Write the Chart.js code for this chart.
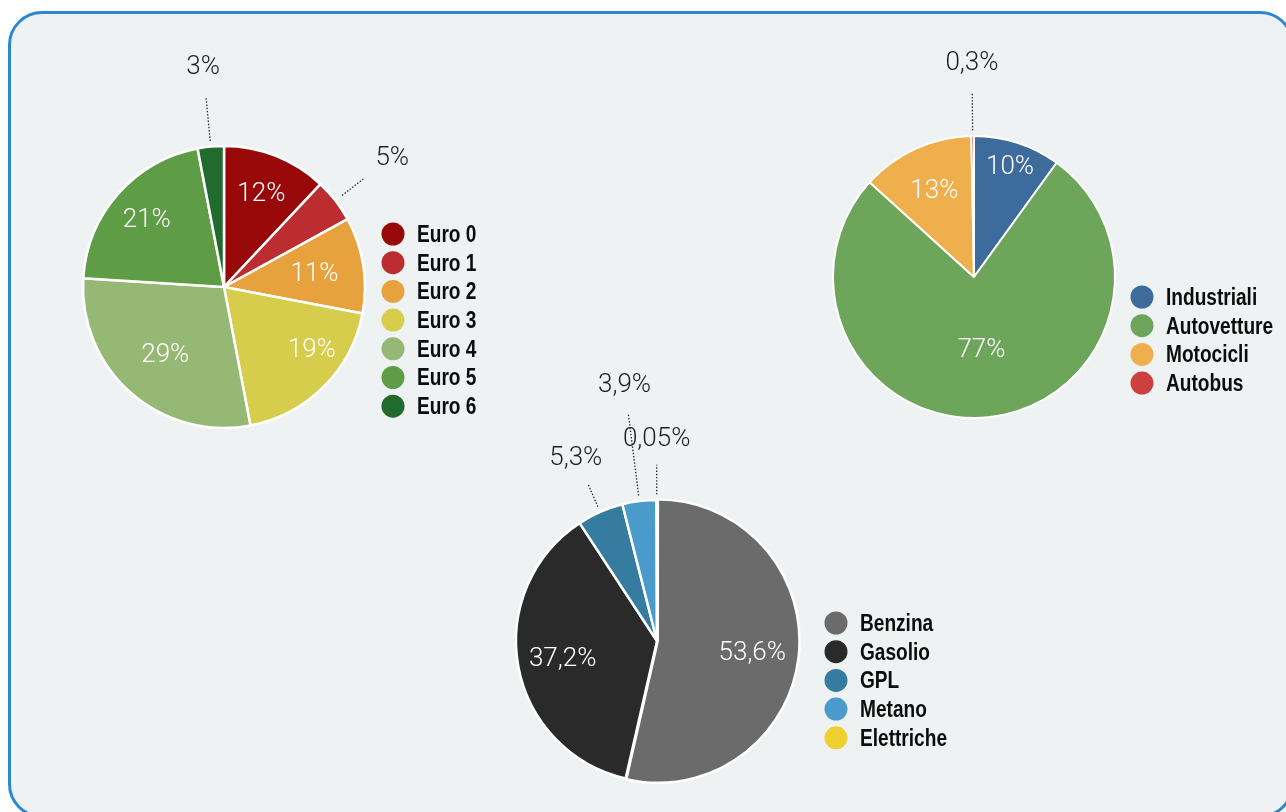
<!DOCTYPE html>
<html>
<head>
<meta charset="utf-8">
<script src="https://cdn.jsdelivr.net/npm/chart.js@4.4.1/dist/chart.umd.min.js"></script>
<style>
  html, body { margin: 0; padding: 0; background: #fff; overflow: hidden; }
  body { width: 1286px; height: 812px; position: relative; }
  .card {
    position: absolute; left: 8px; top: 11px; width: 1286px; height: 807px;
    box-sizing: border-box; border: 3px solid #2b88d0; border-radius: 34px;
    background: #eef2f3;
  }
  canvas { position: absolute; }
</style>
</head>
<body>
<div class="card"></div>
<canvas id="euroChart" width="640" height="640"></canvas>
<canvas id="typeChart" width="640" height="640"></canvas>
<canvas id="fuelChart" width="640" height="640"></canvas>
<script>
const euroLabels = ["Euro 0", "Euro 1", "Euro 2", "Euro 3", "Euro 4", "Euro 5", "Euro 6"];
const euroValues = [12, 5, 11, 19, 29, 21, 3];

const typeLabels = ["Industriali", "Autovetture", "Motocicli", "Autobus"];
const typeValues = [10, 77, 13, 0.3];

const fuelLabels = ["Benzina", "Gasolio", "GPL", "Metano", "Elettriche"];
const fuelValues = [53.6, 37.2, 5.3, 3.9, 0.05];

const pctText = (v) => String(v).replace(".", ",") + "%";

// percent labels inside / outside the slices, plus the round-dot legend
const sliceLabels = {
  id: "sliceLabels",
  afterDatasetsDraw(chart, args, opts) {
    const ctx = chart.ctx;
    const meta = chart.getDatasetMeta(0);
    const ds = chart.data.datasets[0];
    const values = ds.data;
    let cx = 0, cy = 0;
    ctx.save();
    ctx.textAlign = "center";
    ctx.textBaseline = "middle";
    ctx.font = "300 26px Roboto, 'Open Sans', 'Liberation Sans', sans-serif";
    meta.data.forEach((arc, i) => {
      const { x, y, startAngle, endAngle, outerRadius } = arc.getProps(
        ["x", "y", "startAngle", "endAngle", "outerRadius"], true);
      cx = x; cy = y;
      let mid = (startAngle + endAngle) / 2;
      const text = pctText(values[i]);
      if (values[i] >= 8) {
        let k = 0.68;
        const o = (opts.inside || {})[i];
        if (Array.isArray(o)) {
          k = o[0];
          mid += (o[1] * Math.PI) / 180;
        } else if (o) {
          k = o;
        }
        ctx.fillStyle = "#fff";
        ctx.fillText(text, x + Math.cos(mid) * outerRadius * k, y + Math.sin(mid) * outerRadius * k + 2);
      } else {
        const [a, b, c] = (opts.outside || {})[i] || [1.04, 1.28, 1.5];
        const ux = Math.cos(mid), uy = Math.sin(mid);
        ctx.strokeStyle = "#222";
        ctx.lineWidth = 1.3;
        ctx.setLineDash([1.4, 1.8]);
        ctx.beginPath();
        ctx.moveTo(x + ux * outerRadius * a, y + uy * outerRadius * a);
        ctx.lineTo(x + ux * outerRadius * b, y + uy * outerRadius * b);
        ctx.stroke();
        ctx.setLineDash([]);
        ctx.fillStyle = "#1e1e1e";
        ctx.fillText(text, x + ux * outerRadius * c, y + uy * outerRadius * c + 2);
      }
    });

    // legend (bold text squeezed to look condensed)
    const lg = opts.legend;
    ctx.textAlign = "left";
    ctx.font = "bold 23px 'Liberation Sans', Arial, sans-serif";
    chart.data.labels.forEach((label, i) => {
      const lx = cx + lg.dx;
      const ly = cy + lg.dy + i * 28.7;
      ctx.fillStyle = ds.backgroundColor[i];
      ctx.beginPath();
      ctx.arc(lx, ly, 11.5, 0, Math.PI * 2);
      ctx.fill();
      ctx.save();
      ctx.translate(lx + 24, ly + 1.5);
      ctx.scale(0.83, 1);
      ctx.fillStyle = "#0c0c0c";
      ctx.fillText(label, 0, 0);
      ctx.restore();
    });
    ctx.restore();
  },
};

const makePie = (id, center, labels, values, colors, extra, labelOpts) => {
  const canvas = document.getElementById(id);
  canvas.style.left = center[0] - 320 + "px";
  canvas.style.top = center[1] - 320 + "px";
  const config = {
    type: "pie",
    data: {
      labels: labels,
      datasets: [
        Object.assign(
          {
            data: values,
            backgroundColor: colors,
            borderColor: "#ffffff",
            borderWidth: 2.5,
          },
          extra
        ),
      ],
    },
    options: {
      responsive: false,
      animation: false,
      radius: 141,
      layout: { padding: 0 },
      plugins: {
        legend: { display: false },
        tooltip: { enabled: false },
        sliceLabels: labelOpts,
      },
    },
    plugins: [sliceLabels],
  };
  // eslint-disable-next-line no-undef
  return new Chart(canvas, config);
};

makePie(
  "euroChart",
  [224, 287],
  euroLabels,
  euroValues,
  ["#990808", "#bb2d30", "#e7a23d", "#d6cd4c", "#95b974", "#5e9c45", "#226b2f"],
  {},
  {
    inside: { 0: 0.72, 2: 0.65, 3: [0.76, -10], 4: 0.63, 5: 0.73 },
    outside: { 1: [1.06, 1.25, 1.51], 6: [1.04, 1.35, 1.58] },
    legend: { dx: 169, dy: -53 },
  }
);

makePie(
  "typeChart",
  [974, 277],
  typeLabels,
  typeValues,
  ["#3d6b9c", "#6da55a", "#eeaf4c", "#cc4040"],
  { borderWidth: 2 },
  {
    inside: { 0: 0.83, 1: 0.51 },
    outside: { 3: [1.04, 1.31, 1.53] },
    legend: { dx: 168, dy: 20 },
  }
);

makePie(
  "fuelChart",
  [657, 641],
  fuelLabels,
  fuelValues,
  ["#6a6b6a", "#292a29", "#357ca0", "#4a9bcb", "#f0d030"],
  { offset: [3, 0, 0, 0, 0] },
  {
    outside: { 2: [1.04, 1.22, 1.43], 3: [1.04, 1.62, 1.84], 4: [1.04, 1.25, 1.44] },
    legend: { dx: 179, dy: -18 },
  }
);
</script>
</body>
</html>
